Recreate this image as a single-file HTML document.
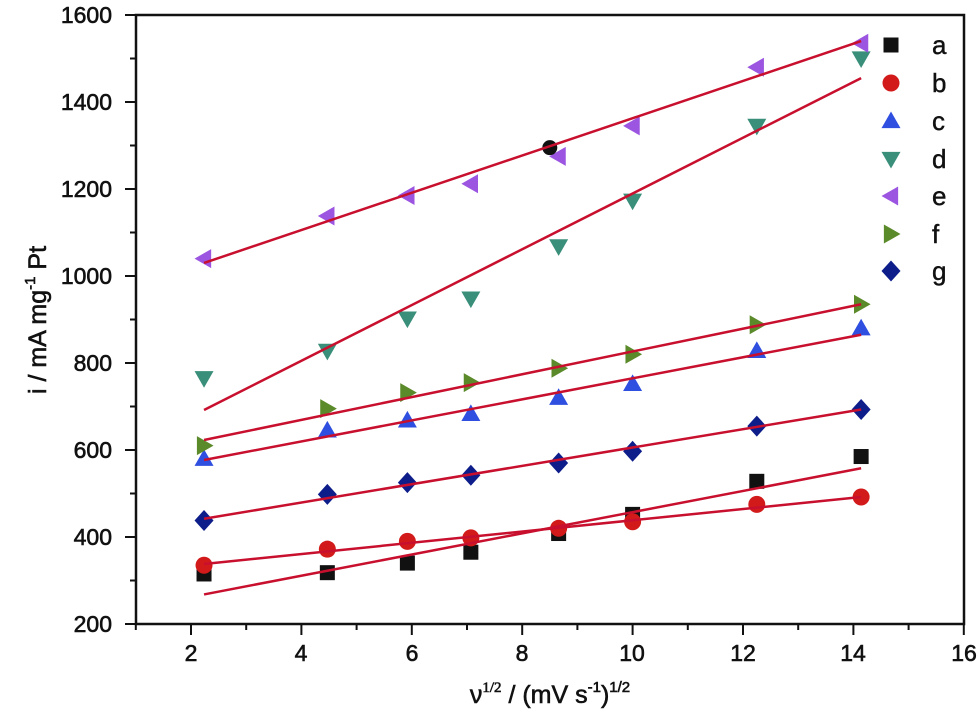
<!DOCTYPE html>
<html><head><meta charset="utf-8"><style>
body{margin:0;background:#fff}
svg{display:block}
text{font-family:"Liberation Sans",Arial,sans-serif;fill:#111}
.t{stroke:#111;stroke-width:0.6}
</style></head><body>
<svg id="s" width="980" height="712" viewBox="0 0 980 712" xmlns="http://www.w3.org/2000/svg">
<rect x="136" y="15" width="828" height="609" fill="none" stroke="#111" stroke-width="2.5"/>
<g font-size="23" text-anchor="end" class="t">
<text x="112" y="632">200</text>
<text x="112" y="545">400</text>
<text x="112" y="458">600</text>
<text x="112" y="371">800</text>
<text x="112" y="284">1000</text>
<text x="112" y="197">1200</text>
<text x="112" y="110">1400</text>
<text x="112" y="23">1600</text>
</g>
<g font-size="23" text-anchor="middle" class="t">
<text x="191" y="661">2</text>
<text x="301" y="661">4</text>
<text x="412" y="661">6</text>
<text x="522" y="661">8</text>
<text x="632" y="661">10</text>
<text x="743" y="661">12</text>
<text x="853" y="661">14</text>
<text x="964" y="661">16</text>
</g>
<text x="550" y="703" font-size="25" text-anchor="middle" class="t">ν<tspan font-family="Liberation Serif" font-size="15" dy="-11">1/2</tspan><tspan dy="11"> / (mV s</tspan><tspan font-size="15" dy="-11">-1</tspan><tspan dy="11">)</tspan><tspan font-size="15" dy="-11">1/2</tspan></text>
<text transform="translate(46,320) rotate(-90)" font-size="25" text-anchor="middle" class="t">i / mA mg<tspan font-size="15" dy="-11">-1</tspan><tspan dy="11"> Pt</tspan></text>
<g font-size="26" class="t" style="stroke-width:0.4">
<text x="932" y="54">a</text><text x="932" y="92">b</text><text x="932" y="130">c</text>
<text x="932" y="168">d</text><text x="932" y="205">e</text><text x="932" y="243">f</text><text x="932" y="280">g</text>
</g>
<g id="d"></g>
</svg>
<script>
const g=document.getElementById('d');
const X=v=>191+(v-2)*55.2, Y=v=>15+(1600-v)*0.435;
let h='';
for(let v=200;v<=1600;v+=100){const y=Y(v),L=v%200?6:11;h+=`<line x1="${136-L}" y1="${y}" x2="136" y2="${y}" stroke="#111" stroke-width="2"/>`;}
for(let v=1;v<=16;v++){const x=X(v),L=v%2?6:11;h+=`<line x1="${x}" y1="624" x2="${x}" y2="${624+L}" stroke="#111" stroke-width="2"/>`;}
const xs=[2.236,4.47,5.92,7.07,8.66,10,12.25,14.14];
const S={
a:{c:'#111',m:'sq',v:[315,318,340,365,408,452,528,585],l:[268,558]},
b:{c:'#d21a1a',m:'ci',v:[335,372,390,398,420,435,475,492],l:[338,492]},
c:{c:'#2f4fe0',m:'up',v:[580,645,668,683,720,752,828,880],l:[577,865]},
d:{c:'#3a8f7a',m:'dn',v:[765,828,902,948,1068,1173,1345,1500],l:[692,1455]},
e:{c:'#9b55e0',m:'lt',v:[1040,1138,1185,1212,1275,1345,1480,1535],l:[1030,1540]},
f:{c:'#5b8a2a',m:'rt',v:[610,695,732,755,788,820,888,935],l:[623,935]},
g:{c:'#0d1d8a',m:'di',v:[438,498,525,542,570,597,655,693],l:[442,693]}};
function mk(m,x,y,c){const r=9.5;switch(m){
case'sq':return `<rect x="${x-7.5}" y="${y-7.5}" width="15" height="15" fill="${c}"/>`;
case'ci':return `<circle cx="${x}" cy="${y}" r="8.5" fill="${c}"/>`;
case'up':return `<polygon points="${x},${y-r} ${x+r},${y+r*0.75} ${x-r},${y+r*0.75}" fill="${c}"/>`;
case'dn':return `<polygon points="${x},${y+r} ${x+r},${y-r*0.75} ${x-r},${y-r*0.75}" fill="${c}"/>`;
case'lt':return `<polygon points="${x-r},${y} ${x+r*0.75},${y-r} ${x+r*0.75},${y+r}" fill="${c}"/>`;
case'rt':return `<polygon points="${x+r},${y} ${x-r*0.75},${y-r} ${x-r*0.75},${y+r}" fill="${c}"/>`;
case'di':return `<polygon points="${x},${y-10.5} ${x+9.5},${y} ${x},${y+10.5} ${x-9.5},${y}" fill="${c}"/>`;}}
let pts='',lines='';const ly=[45,83,121,159,196,234,271];let i=0;
for(const k in S){const s=S[k];
s.v.forEach((v,j)=>pts+=mk(s.m,X(xs[j]),Y(v),s.c));
lines+=`<line x1="${X(2.236)}" y1="${Y(s.l[0])}" x2="${X(14.14)}" y2="${Y(s.l[1])}" stroke="#c8102e" stroke-width="2.5"/>`;
pts+=mk(s.m,891,ly[i++],s.c);}
pts+=`<circle cx="${X(8.5)}" cy="${Y(1295)}" r="7.5" fill="#111"/>`;
g.innerHTML=h+pts+lines;
</script>
</body></html>
